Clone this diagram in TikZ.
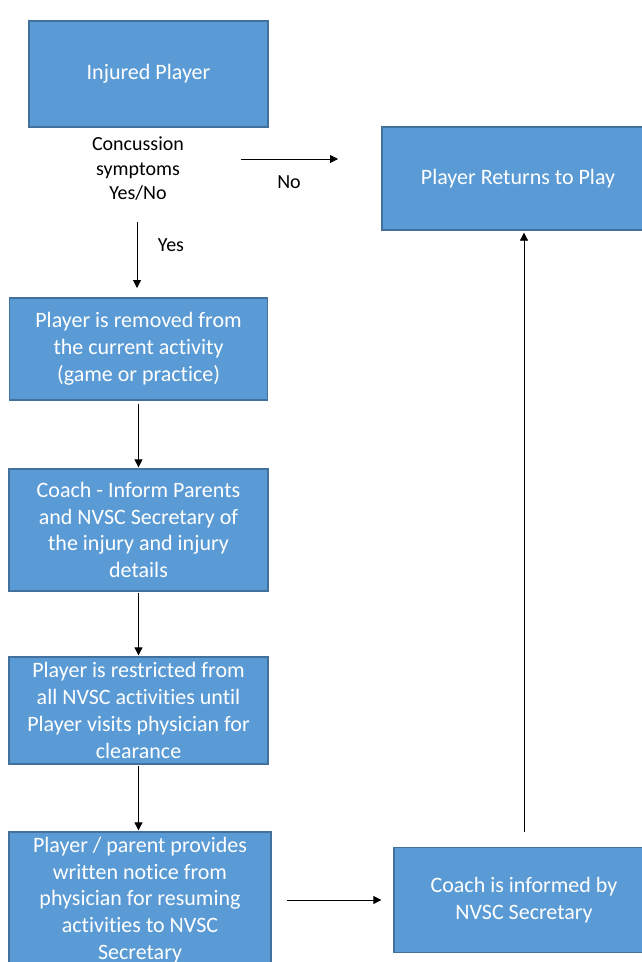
\documentclass[tikz,border=0pt]{standalone}
\usepackage{fontspec}
\setmainfont{Carlito}[Ligatures=CommonOff]
\usetikzlibrary{arrows.meta}
\definecolor{boxfill}{HTML}{5B9BD5}
\definecolor{boxline}{HTML}{41719C}
\tikzset{
  flowbox/.style={draw=boxline, line width=1.3pt, fill=boxfill, text=white,
    align=center, inner sep=0pt, font=\fontsize{22}{26.8}\selectfont},
  plain/.style={align=center, inner sep=0pt, font=\fontsize{20}{24.5}\selectfont},
  conn/.style={line width=0.8pt, -{Triangle[length=8pt,width=8pt]}}
}
\begin{document}
\begin{tikzpicture}[x=1pt,y=-1pt]
\useasboundingbox (0,0) rectangle (642,962);
\clip (0,0) rectangle (642,962);
\node[flowbox, minimum width=239pt, minimum height=106pt] (ip) at (148.5,74) {Injured Player};
\node[flowbox, minimum width=272pt, minimum height=103pt] (prp) at (518,178.5) {Player Returns to Play};
\node[flowbox, minimum width=258pt, minimum height=102pt] (rem) at (138.5,349) {Player is removed from\\the current activity\\(game or practice)};
\node[flowbox, minimum width=259pt, minimum height=122pt] (coach) at (138.5,530) {Coach - Inform Parents\\and NVSC Secretary of\\the injury and injury\\details};
\node[flowbox, minimum width=259pt, minimum height=107pt] (restr) at (138.5,710.5) {Player is restricted from\\all NVSC activities until\\Player visits physician for\\clearance};
\node[flowbox, minimum width=262pt, minimum height=136pt] (notice) at (140,900) {Player / parent provides\\written notice from\\physician for resuming\\activities to NVSC\\Secretary};
\node[flowbox, minimum width=260pt, minimum height=105pt] (inf) at (524,900) {Coach is informed by\\NVSC Secretary};

\node[plain] (q) at (138,169) {Concussion\\symptoms\\Yes/No};
\coordinate (noS) at (241,159);
\coordinate (noE) at (338,159);
\coordinate (yesS) at (137,222);
\coordinate (yesE) at (137,288);
\draw[conn] (noS) -- (noE);
\node[plain] (nolab) at (289,182) {No};
\draw[conn] (yesS) -- (yesE);
\node[plain] (yeslab) at (171,245) {Yes};

\draw[conn, shorten <=3pt, shorten >=1pt] (rem.south) -- (rem.south |- coach.north);
\draw[conn, shorten <=1pt, shorten >=1pt] (coach.south) -- (coach.south |- restr.north);
\draw[conn, shorten <=1pt, shorten >=1pt] (restr.south) -- (restr.south |- notice.north);
\draw[conn, shorten <=15pt, shorten >=12pt] (notice.east) -- (notice.east -| inf.west);
\draw[conn, shorten <=15pt, shorten >=2pt] (inf.north) -- (inf.north |- prp.south);
\end{tikzpicture}
\end{document}
